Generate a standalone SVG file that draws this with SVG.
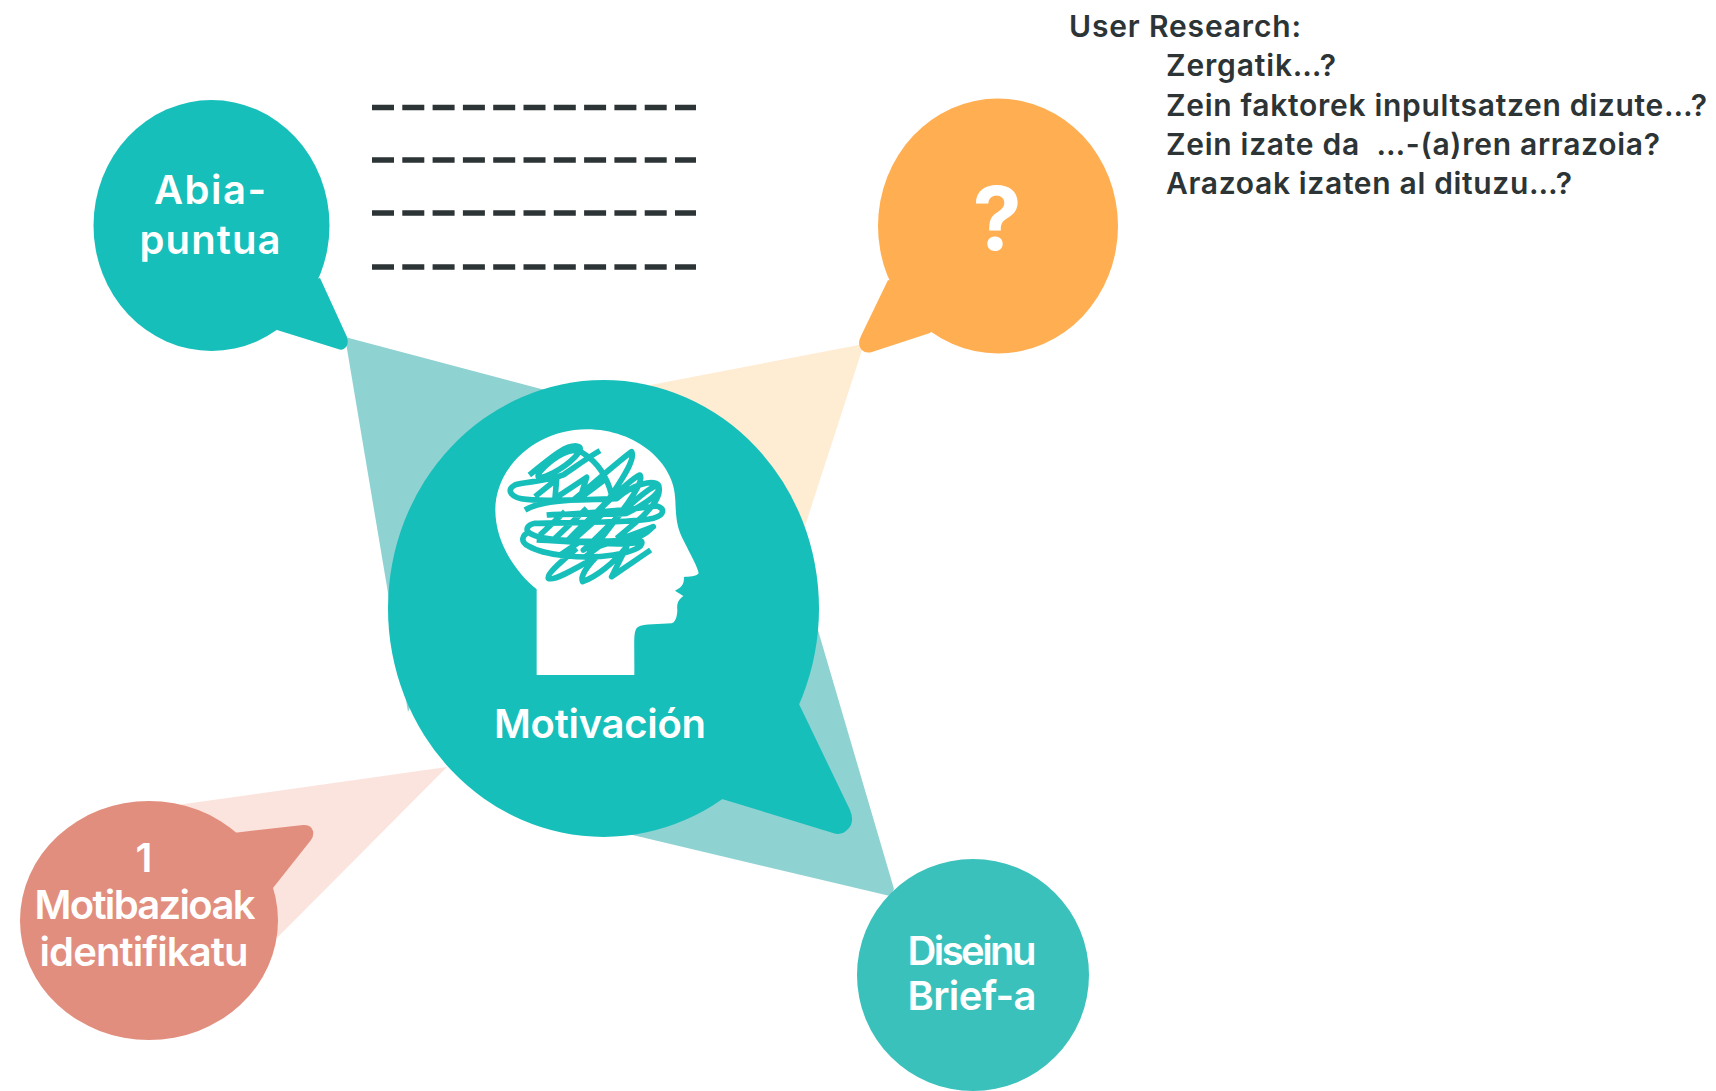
<svg xmlns="http://www.w3.org/2000/svg" width="1716" height="1091" viewBox="0 0 1716 1091">
<style>
.w{fill:#fff;font-family:"Inter","Liberation Sans",sans-serif;font-weight:600;text-anchor:middle;font-size:40px}
.d{fill:#2d3436;font-family:"Inter","Liberation Sans",sans-serif;font-weight:600;font-size:30px}
.dash{stroke:#2d3436;stroke-width:5.5;stroke-dasharray:22 8.3;fill:none}
.teal{fill:#17bfba}
</style>
<rect width="1716" height="1091" fill="#fff"/>
<g id="connectors">
<polygon points="345,337 545,390 408,712" fill="#8fd2d2"/>
<polygon points="894,889 890,896 620,832 815,620" fill="#8fd2d2"/>
<polygon points="864,344 640,387 781,600" fill="#feecd3"/>
<polygon points="447,767 170,806 265,950" fill="#fbe4de"/>
</g>
<g id="dashes">
<line class="dash" x1="372" y1="107.500" x2="696" y2="107.500"/>
<line class="dash" x1="372" y1="160" x2="696" y2="160"/>
<line class="dash" x1="372" y1="213" x2="696" y2="213"/>
<line class="dash" x1="372" y1="267" x2="696" y2="267"/>
</g>
<g id="node-abia">
<ellipse class="teal" cx="211.500" cy="225.500" rx="118" ry="125.500"/>
<path class="teal" d="M320,278 L347,337 Q349,345 345,348 Q342,351 338,349 L277,330 L250,300Z"/>
<text class="w" x="210" y="204" textLength="112">Abia-</text>
<text class="w" x="210" y="254" textLength="141">puntua</text>
</g>
<g id="node-question">
<ellipse cx="998" cy="226" rx="120" ry="127.500" fill="#ffae52"/>
<path fill="#ffae52" d="M888,280 L861,336 Q857,344 861,349 Q865,354 872,352 L930,333 L960,300Z"/>
<text class="w" x="997" y="250" style="font-size:88px;font-weight:700">?</text>
</g>
<g id="node-motivacion">
<ellipse class="teal" cx="603.500" cy="608.500" rx="215.500" ry="228.500"/>
<path class="teal" d="M799,704 L850,810 Q855,822 848,829 Q842,836 833,833 L722,799 L680,720Z"/>
<g transform="translate(440 400) scale(.3333)">
<path fill="#fff" d="M290,825 L290,568 C230,520 166,430 166,330 C166,200 290,88 440,88 C590,88 705,190 706,300 C708,360 712,385 730,420 C750,460 775,505 776,520 C770,530 745,530 732,531 C732,545 732,560 705,572 L730,588 C715,600 710,610 712,630 C712,650 705,668 695,670 C660,672 610,672 595,680 C578,690 584,720 583,825Z"/>
<path fill="none" stroke="#17bfba" stroke-width="17" stroke-linejoin="round" d="M268,225 C320,185 370,135 410,138 C445,142 385,195 340,218 C300,238 285,235 300,215 C340,170 400,135 430,160 C470,185 500,225 515,285 M480,152 C440,175 400,205 370,225 C320,245 250,245 225,255 C195,270 215,295 260,298 C340,305 480,298 530,296 C580,250 640,240 655,255 C670,280 600,320 560,340 C480,345 380,340 320,345 M285,290 L350,238 L345,295 L440,232 L420,295 L500,235 M255,330 C290,310 330,305 400,300 C450,260 540,180 575,155 C590,180 530,260 505,300 C470,340 420,380 385,420 C420,390 560,240 600,225 C615,240 560,320 515,370 C480,410 450,440 430,450 C470,420 600,270 655,255 C670,290 620,340 590,365 M340,345 C430,340 560,330 650,318 C675,325 675,345 640,355 C560,372 400,365 285,370 C260,375 255,390 270,400 C300,420 430,430 560,420 C620,412 630,385 640,380 C590,400 480,440 440,450 M270,395 C245,405 240,425 265,438 C310,465 430,480 520,465 C580,455 610,440 605,425 C560,440 400,425 290,420 M300,405 L375,335 M345,415 L440,325 M400,420 L490,340 M480,420 L545,335 M530,415 L590,365 M360,465 L420,425 M430,475 L490,430 M410,445 C370,480 320,520 325,535 C340,545 400,510 470,470 C440,500 420,530 428,545 C470,530 520,490 560,440 C545,470 525,510 515,530 L632,450"/>
</g>
<text class="w" x="600" y="738" textLength="212">Motivación</text>
</g>
<g id="node-motibazioak">
<ellipse cx="149" cy="920.500" rx="129" ry="119.500" fill="#e28e7e"/>
<path fill="#e28e7e" d="M233,833 L303,825 Q311,824 313,831 Q314,836 311,840 L273,888 L230,900Z"/>
<text class="w" x="144" y="872">1</text>
<text class="w" x="145" y="919" textLength="221">Motibazioak</text>
<text class="w" x="144" y="966" textLength="209">identifikatu</text>
</g>
<g id="node-diseinu">
<circle cx="973" cy="975" r="116" fill="#3bc1bb"/>
<text class="w" x="972" y="965" textLength="129">Diseinu</text>
<text class="w" x="972" y="1010" textLength="129">Brief-a</text>
</g>
<g id="user-research">
<text class="d" x="1069" y="37" textLength="232">User Research:</text>
<text class="d" x="1166" y="76" textLength="170">Zergatik…?</text>
<text class="d" x="1166" y="116" textLength="541">Zein faktorek inpultsatzen dizute…?</text>
<text class="d" x="1166" y="155" textLength="494" xml:space="preserve">Zein izate da  …-(a)ren arrazoia?</text>
<text class="d" x="1166" y="194" textLength="406">Arazoak izaten al dituzu…?</text>
</g>
</svg>
